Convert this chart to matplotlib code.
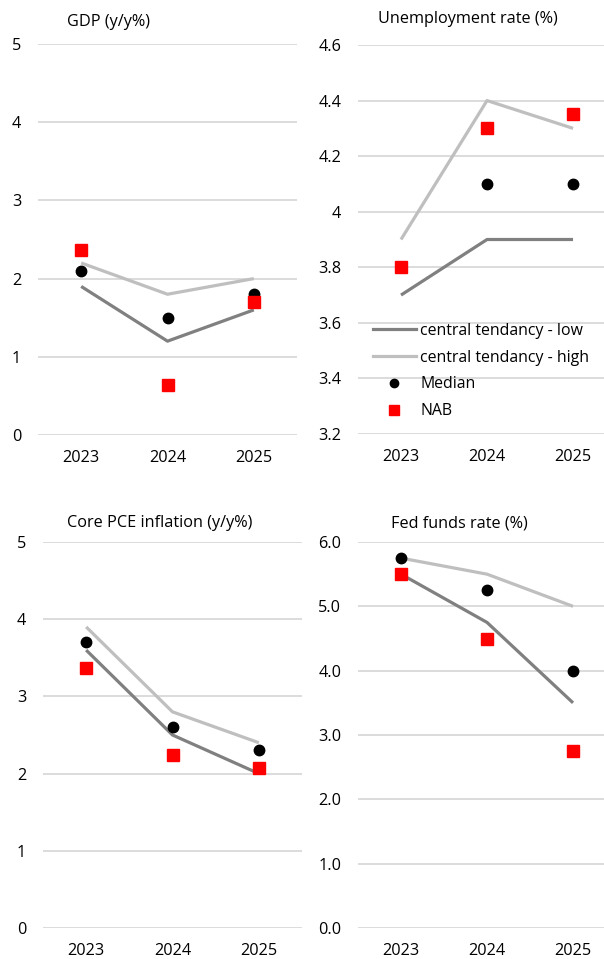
import matplotlib
matplotlib.use("Agg")
import matplotlib.pyplot as plt
from matplotlib.lines import Line2D

plt.rcParams['font.family'] = ['Open Sans', 'DejaVu Sans']

years = ["2023", "2024", "2025"]

gdp_low = [1.9, 1.2, 1.6]
gdp_high = [2.2, 1.8, 2.0]
gdp_median = [2.1, 1.5, 1.8]
gdp_nab = [2.37, 0.64, 1.7]

unemp_low = [3.7, 3.9, 3.9]
unemp_high = [3.9, 4.4, 4.3]
unemp_median = [3.8, 4.1, 4.1]
unemp_nab = [3.8, 4.3, 4.35]

pce_low = [3.6, 2.5, 2.0]
pce_high = [3.9, 2.8, 2.4]
pce_median = [3.7, 2.6, 2.3]
pce_nab = [3.37, 2.24, 2.07]

ffr_low = [5.5, 4.75, 3.5]
ffr_high = [5.75, 5.5, 5.0]
ffr_median = [5.75, 5.25, 4.0]
ffr_nab = [5.5, 4.5, 2.75]

LOW_C = "#808080"
HIGH_C = "#bfbfbf"
GRID_C = "#d9d9d9"
FS = 11.7

W, H = 604, 959
fig = plt.figure(figsize=(W / 100, H / 100), dpi=100)


def px_axes(left, right, top, bottom):
    return fig.add_axes([left / W, 1 - bottom / H, (right - left) / W, (bottom - top) / H])


def panel(ax, title, low, high, median, nab, ylim, yticks, fmt, xmax, title_x, title_y):
    x = list(range(len(years)))
    ax.plot(x, low, color=LOW_C, lw=2.3, solid_capstyle='butt', zorder=2)
    ax.plot(x, high, color=HIGH_C, lw=2.3, solid_capstyle='butt', zorder=2)
    ax.plot(x, median, 'o', color='black', ms=7.5, ls='none', zorder=3)
    ax.plot(x, nab, 's', color='#ff0000', ms=8.5, ls='none', zorder=4)
    ax.set_xlim(-0.5, xmax)
    ax.set_ylim(*ylim)
    ax.set_yticks(yticks)
    ax.set_yticklabels([fmt.format(v) for v in yticks])
    ax.set_xticks(x)
    ax.set_xticklabels(years)
    ax.grid(axis='y', color=GRID_C, lw=1.3)
    ax.set_axisbelow(True)
    for s in ax.spines.values():
        s.set_visible(False)
    ax.tick_params(axis='both', length=0, labelsize=FS, colors='black')
    ax.tick_params(axis='y', pad=12)
    ax.tick_params(axis='x', pad=11)
    fig.text(title_x / W, 1 - title_y / H, title, fontsize=FS, ha='left', va='center')


ax1 = px_axes(38, 297, 44, 435)
panel(ax1, "GDP (y/y%)", gdp_low, gdp_high, gdp_median, gdp_nab,
      (0, 5), [0, 1, 2, 3, 4, 5], "{:g}", 2.5, 67, 22)

ax2 = px_axes(358, 604, 45, 434)
panel(ax2, "Unemployment rate (%)", unemp_low, unemp_high, unemp_median, unemp_nab,
      (3.2, 4.6), [3.2, 3.4, 3.6, 3.8, 4.0, 4.2, 4.4, 4.6], "{:g}", 2.36, 378, 19)

ax3 = px_axes(43, 302, 542, 928)
panel(ax3, "Core PCE inflation (y/y%)", pce_low, pce_high, pce_median, pce_nab,
      (0, 5), [0, 1, 2, 3, 4, 5], "{:g}", 2.5, 67, 523)

ax4 = px_axes(358, 604, 542, 928)
panel(ax4, "Fed funds rate (%)", ffr_low, ffr_high, ffr_median, ffr_nab,
      (0, 6), [0, 1, 2, 3, 4, 5, 6], "{:.1f}", 2.36, 391, 523)

handles = [
    Line2D([], [], color=LOW_C, lw=2.3),
    Line2D([], [], color=HIGH_C, lw=2.3),
    Line2D([], [], marker='o', color='black', ms=6, ls='none'),
    Line2D([], [], marker='s', color='#ff0000', ms=6.5, ls='none'),
]
labels = ["central tendancy - low", "central tendancy - high", "Median", "NAB"]
ax2.legend(handles, labels, loc='upper left', bbox_to_anchor=(365 / W, 1 - 315 / H),
           bbox_transform=fig.transFigure, frameon=False, fontsize=11.4,
           handlelength=2.7, handletextpad=0.3, labelspacing=0.68, borderpad=0)

fig.savefig("out.png", dpi=100)
